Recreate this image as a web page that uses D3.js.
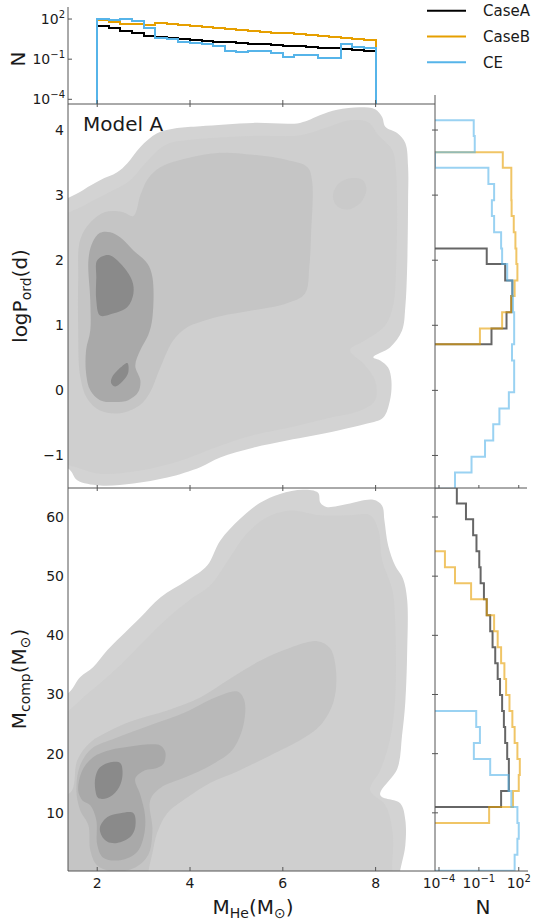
<!DOCTYPE html>
<html>
<head>
<meta charset="utf-8">
<script src="https://cdn.jsdelivr.net/npm/d3@7"></script>
<style>
html,body{margin:0;padding:0;background:#fff;}
svg text{font-family:"DejaVu Sans",sans-serif;fill:#1a1a1a;}
</style>
</head>
<body>
<svg id="fig" width="540" height="920"></svg>
<script>
// ---- marginal histogram of helium-star mass (bins along M_He) ----
const massEdges = [2.0,2.25,2.5,2.75,3.0,3.25,3.5,3.75,4.0,4.25,4.5,4.75,5.0,5.25,5.5,5.75,6.0,6.25,6.5,6.75,7.0,7.25,7.5,7.75,8.0];
const massCaseA = [30.2,20.4,12.6,8.5,5.6,4.8,4.0,3.2,2.7,2.4,2.0,1.8,1.6,1.45,1.3,1.15,1.02,0.91,0.81,0.72,0.65,0.58,0.51,0.43];
const massCaseB = [85,63,43,43,34,48,40,34,30,25,21,19,16,13.5,11.2,9.5,8.5,7.2,6.0,5.1,4.6,3.8,3.2,2.6];
const massCE    = [100,85,100,71,23,4.0,3.3,1.9,1.55,1.3,0.98,0.41,0.36,0.41,0.41,0.28,0.14,0.2,0.2,0.12,0.12,1.45,0.85,0.72];

// ---- marginal histogram of orbital period (bins along logP, top to bottom) ----
const periodEdges = [4.15,3.91,3.66,3.42,3.17,2.92,2.68,2.43,2.18,1.94,1.69,1.45,1.20,0.95,0.71,0.46,0.22,-0.03,-0.28,-0.52,-0.77,-1.02,-1.26,-1.51];
const periodCaseA = [0,0,0,0,0,0,0,0,0.39,9.5,33,27.5,12,0.89,0,0,0,0,0,0,0,0,0];
const periodCaseB = [0,0,6.3,27.5,27.5,29,42,56,66,79,49,27.5,5.6,0.12,0,0,0,0,0,0,0,0,0];
const periodCE    = [0.041,0.049,0,0.52,1.4,0.95,1.4,4.7,5.6,13.5,33,37,45,45,31,45,45,18,3.5,1.2,0.29,0.028,0.0016];

// ---- marginal histogram of companion mass (bins along M_comp, top to bottom) ----
const compEdges = [65.0,62.3,59.6,56.9,54.2,51.5,48.8,46.1,43.4,40.7,38.0,35.3,32.6,29.9,27.2,24.5,21.8,19.1,16.4,13.7,11.0,8.3,5.6,2.9,0.2];
const compCaseA = [0.0022,0.0107,0.037,0.066,0.107,0.135,0.24,0.39,0.71,1.07,1.7,2.6,3.9,5.6,7.6,9.5,13.5,18,18,4.7,0,0,0,0];
const compCaseB = [0,0,0,0,0.00028,0.0016,0.026,0.39,1.4,2.6,4.7,8.3,11.2,20,33,49,79,120,100,37,0.59,0,0,0];
const compCE    = [0,0,0,0,0,0,0,0,0,0,0,0,0,0,0.063,0.12,0.042,0.71,17,27.5,79,100,79,49];

// ---- tick values ----
const massTicks = [2,4,6,8];
const periodTicks = [-1,0,1,2,3,4];
const compTicks = [10,20,30,40,50,60];
const countExponents = [-4,-1,2];
const channels = ["CaseA","CaseB","CE"];

// ---- density regions in the (M_He, logP) plane, outermost first ----
const periodOuter = [[0.99,2.69],[1.70,3.08],[2.06,3.23],[2.43,3.35],[2.65,3.49],[2.93,3.74],[3.29,3.95],[3.72,4.03],[4.22,4.06],[5.36,4.11],[6.37,4.11],[6.81,4.23],[7.17,4.31],[7.67,4.35],[7.99,4.32],[8.14,4.20],[8.21,4.05],[8.47,3.95],[8.64,3.80],[8.70,3.43],[8.70,2.92],[8.68,1.89],[8.64,1.28],[8.57,0.92],[8.31,0.66],[7.95,0.51],[8.10,0.46],[8.27,0.35],[8.34,0.15],[8.31,-0.15],[8.16,-0.42],[7.82,-0.51],[7.17,-0.62],[6.09,-0.77],[5.36,-0.88],[4.65,-1.03],[4.22,-1.18],[3.51,-1.34],[2.78,-1.43],[2.06,-1.46],[1.57,-1.38],[1.42,-1.23],[0.99,-1.0]];
const periodRing = [[1.09,2.54],[1.74,2.85],[2.28,3.05],[2.71,3.23],[3.10,3.54],[3.47,3.77],[4.0,3.85],[5.36,3.91],[6.38,3.92],[6.91,4.03],[7.45,4.15],[7.84,4.12],[8.06,3.92],[8.36,3.69],[8.44,3.38],[8.44,1.85],[8.38,1.31],[8.21,1.0],[7.78,0.77],[7.45,0.62],[7.78,0.38],[7.99,0.15],[7.99,-0.15],[7.67,-0.31],[7.02,-0.42],[6.09,-0.58],[5.36,-0.69],[4.65,-0.85],[3.79,-1.08],[2.93,-1.23],[2.06,-1.28],[1.63,-1.2],[1.09,-1.0]];
const periodSpot = [[7.08,2.98],[7.19,3.17],[7.45,3.26],[7.73,3.23],[7.80,3.08],[7.67,2.88],[7.41,2.78],[7.17,2.83]];
const periodBand = [[1.63,2.31],[1.85,2.58],[2.17,2.74],[2.54,2.74],[2.78,2.68],[2.93,3.0],[3.10,3.26],[3.36,3.43],[3.79,3.54],[4.65,3.65],[5.36,3.62],[6.09,3.54],[6.53,3.43],[6.63,3.23],[6.61,2.42],[6.57,1.89],[6.48,1.49],[6.09,1.34],[5.36,1.23],[4.65,1.14],[4.22,1.05],[3.94,0.97],[3.64,0.77],[3.36,0.35],[3.14,-0.03],[2.93,-0.22],[2.50,-0.35],[2.06,-0.31],[1.78,-0.12],[1.63,0.23],[1.59,0.92],[1.59,1.69]];
const periodCore = [[1.89,2.26],[2.06,2.42],[2.28,2.43],[2.50,2.35],[2.78,2.15],[3.08,1.95],[3.19,1.74],[3.19,1.12],[3.10,0.85],[2.93,0.62],[2.82,0.38],[2.93,0.15],[2.88,-0.03],[2.67,-0.15],[2.39,-0.18],[2.06,-0.15],[1.85,0.0],[1.76,0.26],[1.76,0.62],[1.85,0.92],[1.85,1.38],[1.81,2.0]];
const periodPeakHigh = [[2.0,2.0],[2.24,2.08],[2.50,1.95],[2.75,1.69],[2.78,1.49],[2.65,1.28],[2.34,1.18],[2.06,1.15],[1.98,1.38],[1.98,1.74]];
const periodPeakLow = [[2.32,0.2],[2.50,0.35],[2.65,0.42],[2.67,0.28],[2.56,0.15],[2.39,0.06],[2.30,0.11]];

// ---- density regions in the (M_He, M_comp) plane, outermost first ----
const compOuter = [[0.99,29.0],[1.375,30.2],[1.63,32.9],[1.91,34.6],[2.22,37.5],[2.50,39.7],[2.93,43.0],[3.36,46.4],[3.94,49.3],[4.37,51.8],[4.65,56.0],[5.08,59.7],[5.51,62.4],[5.94,63.9],[6.44,64.6],[6.76,64.1],[6.81,62.4],[6.94,61.7],[7.39,62.2],[7.95,62.9],[8.14,61.9],[8.19,59.4],[8.27,55.2],[8.42,51.8],[8.59,49.6],[8.68,46.0],[8.68,37.2],[8.64,28.7],[8.57,23.1],[8.47,17.5],[8.10,13.0],[8.53,11.6],[8.64,8.8],[8.64,4.5],[8.57,1.7],[8.42,-2.2],[8.10,-4.7],[6.38,-5.5],[2.06,-5.5],[0.99,-5.5]];
const compRing = [[1.09,24.0],[1.63,29.0],[2.06,31.9],[2.50,35.0],[2.93,38.4],[3.47,42.6],[4.0,46.0],[4.44,48.5],[4.82,52.7],[5.19,56.9],[5.62,59.8],[6.16,61.1],[6.81,60.3],[7.45,60.3],[7.88,60.3],[8.06,57.8],[8.14,52.7],[8.36,47.7],[8.42,42.6],[8.42,29.1],[8.31,22.4],[8.10,17.2],[7.88,13.8],[8.21,11.3],[8.36,7.1],[8.36,2.0],[8.21,-3.9],[1.09,-3.9]];
const compBand = [[1.46,13.83],[1.57,18.9],[1.85,21.9],[2.28,23.9],[2.78,25.6],[3.51,27.3],[4.22,29.5],[4.87,32.7],[5.51,35.7],[6.16,37.9],[6.74,39.0],[7.02,37.8],[7.15,33.7],[7.09,28.7],[6.81,24.8],[6.44,22.6],[5.73,19.7],[5.02,17.0],[4.44,15.1],[3.94,12.6],[3.51,9.95],[3.29,6.6],[3.19,3.2],[3.10,0.0],[3.03,-3.9],[1.20,-3.9],[1.20,12.1]];
const compInner = [[1.55,13.8],[1.63,18.0],[1.89,20.9],[2.39,22.6],[3.14,24.8],[3.90,27.0],[4.54,29.5],[5.02,30.5],[5.17,29.0],[5.15,24.8],[4.91,20.6],[4.44,18.0],[3.90,16.0],[3.36,14.2],[3.14,12.1],[3.19,7.1],[3.10,2.9],[2.82,0.75],[2.39,0.07],[2.0,1.1],[1.85,3.7],[1.81,7.9],[1.63,10.5]];
const compCore = [[1.59,13.8],[1.68,17.2],[1.91,19.4],[2.28,20.6],[2.71,21.2],[3.14,21.6],[3.36,21.4],[3.47,20.2],[3.42,18.2],[3.25,17.5],[3.03,17.2],[2.82,15.8],[2.93,13.0],[3.03,9.6],[3.01,6.3],[2.86,3.4],[2.50,2.0],[2.13,2.4],[2.0,4.6],[1.98,8.8],[1.85,11.3],[1.68,12.1]];
const compPeakHigh = [[1.96,16.0],[2.06,17.7],[2.32,18.6],[2.50,18.4],[2.54,16.0],[2.43,13.8],[2.22,12.5],[2.02,12.5],[1.96,13.8]];
const compPeakLow = [[2.06,7.6],[2.22,9.3],[2.50,9.95],[2.78,9.95],[2.82,7.6],[2.71,5.9],[2.43,4.9],[2.22,5.1],[2.09,6.2]];

// ---- styling ----
const channelColor = {CaseA:"#000000", CaseB:"#E69F00", CE:"#56B4E9"};
const shade = {outer:"#d3d3d3", ring:"#cfcfcf", spot:"#cacaca", band:"#c5c5c5", inner:"#b9b9b9", core:"#a9a9a9", peak:"#8a8a8a"};
const periodLayers = [[periodOuter,"outer"],[periodRing,"ring"],[periodSpot,"spot"],[periodBand,"band"],[periodCore,"core"],[periodPeakHigh,"peak"],[periodPeakLow,"peak"]];
const compLayers = [[compOuter,"outer"],[compRing,"ring"],[compBand,"band"],[compInner,"inner"],[compCore,"core"],[compPeakHigh,"peak"],[compPeakLow,"peak"]];

// ---- layout ----
const L = 68, R = 435, RH = 527;
const T0 = 7, T1 = 104, MID = 488, B = 871;

const svg = d3.select("#fig");
const x = d3.scaleLinear().domain([1.37, 9.28]).range([L, R]);
const yP = d3.scaleLinear().domain([-1.5, 4.4]).range([MID, T1]);
const yC = d3.scaleLinear().domain([0.17, 64.9]).range([B, MID]);
const yN = d3.scaleLog().domain([Math.pow(10,-4.35), Math.pow(10,2.9)]).range([T1, T0]);
const xN = d3.scaleLog().domain([Math.pow(10,-4.3), Math.pow(10,2.77)]).range([R, RH + 2]);

const defs = svg.append("defs");
function clip(id, x0, y0, w, h) {
  defs.append("clipPath").attr("id", id).append("rect").attr("x", x0).attr("y", y0).attr("width", w).attr("height", h);
  return "url(#" + id + ")";
}
const clipTop = clip("cTop", L, T1, R - L, MID - T1);
const clipBot = clip("cBot", L, MID, R - L, B - MID);
const clipHist = clip("cHist", L, 0, R - L, T1);
const clipRT = clip("cRT", R, T1, 100, MID - T1);
const clipRB = clip("cRB", R, MID, 100, B - MID);

// ---- filled density regions ----
const smooth = d3.line().curve(d3.curveCatmullRomClosed.alpha(0.5));
function drawLayers(layers, yScale, clipUrl) {
  const g = svg.append("g").attr("clip-path", clipUrl);
  layers.forEach(([pts, lvl]) => {
    g.append("path")
      .attr("d", smooth(pts.map(p => [x(p[0]), yScale(p[1])])))
      .attr("fill", shade[lvl]);
  });
}
drawLayers(periodLayers, yP, clipTop);
drawLayers(compLayers, yC, clipBot);

// ---- step histograms ----
function nonzeroRange(counts) {
  let first = counts.findIndex(c => c > 0);
  let last = counts.length - 1;
  while (last > 0 && !(counts[last] > 0)) last--;
  return [first, last];
}
function columnSteps(edges, counts) {
  const [first, last] = nonzeroRange(counts);
  const base = T1 + 2;
  const yv = c => c > 0 ? yN(c) : base;
  const pts = [[x(edges[first]), base]];
  for (let i = first; i <= last; i++) {
    pts.push([x(edges[i]), yv(counts[i])]);
    pts.push([x(edges[i + 1]), yv(counts[i])]);
  }
  pts.push([x(edges[last + 1]), base]);
  return d3.line()(pts);
}
function rowSteps(edges, counts, yScale) {
  const [first, last] = nonzeroRange(counts);
  const base = R;
  const xv = c => c > 0 ? xN(c) : base;
  const pts = [[base, yScale(edges[first])]];
  for (let i = first; i <= last; i++) {
    pts.push([xv(counts[i]), yScale(edges[i])]);
    pts.push([xv(counts[i]), yScale(edges[i + 1])]);
  }
  pts.push([base, yScale(edges[last + 1])]);
  return d3.line()(pts);
}

const massData = {CaseA: massCaseA, CaseB: massCaseB, CE: massCE};
const periodData = {CaseA: periodCaseA, CaseB: periodCaseB, CE: periodCE};
const compData = {CaseA: compCaseA, CaseB: compCaseB, CE: compCE};

const gHist = svg.append("g").attr("clip-path", clipHist);
channels.forEach(ch => {
  gHist.append("path").attr("d", columnSteps(massEdges, massData[ch]))
    .attr("fill", "none").attr("stroke", channelColor[ch]).attr("stroke-width", 2)
    .attr("shape-rendering", "crispEdges");
});
const gRT = svg.append("g").attr("clip-path", clipRT);
const gRB = svg.append("g").attr("clip-path", clipRB);
channels.forEach(ch => {
  gRT.append("path").attr("d", rowSteps(periodEdges, periodData[ch], yP))
    .attr("fill", "none").attr("stroke", channelColor[ch]).attr("stroke-width", 2).attr("stroke-opacity", 0.6);
  gRB.append("path").attr("d", rowSteps(compEdges, compData[ch], yC))
    .attr("fill", "none").attr("stroke", channelColor[ch]).attr("stroke-width", 2).attr("stroke-opacity", 0.6);
});

// ---- frames and ticks ----
const ax = svg.append("g").attr("stroke", "#555").attr("stroke-width", 1).attr("fill", "none");
function seg(x1, y1, x2, y2) { ax.append("line").attr("x1", x1).attr("y1", y1).attr("x2", x2).attr("y2", y2); }
seg(L, T0, L, B);          // left spine through all stacked panels
seg(L, T1, R, T1);         // top of the density panel
seg(L, MID, RH, MID);      // divider between panels
seg(L, B, RH + 1, B);      // bottom axis
seg(R, T1, R, B);          // left spine of the side histograms
seg(R, T1 - 9, R, T1);
massTicks.forEach(m => {
  seg(x(m), T1 - 4, x(m), T1 + 3);
  seg(x(m), MID - 3, x(m), MID + 3);
  seg(x(m), B - 4, x(m), B);
});
periodTicks.forEach(p => seg(R - 3, yP(p), R + 3, yP(p)));
compTicks.forEach(c => seg(R - 3, yC(c), R + 3, yC(c)));
countExponents.forEach(e => {
  const v = Math.pow(10, e);
  seg(L, yN(v), L + 4, yN(v));
  seg(xN(v), MID - 3, xN(v), MID);
  seg(xN(v), B - 4, xN(v), B);
});

// ---- tick labels ----
const fs = 14;
function powLabel(t, e) {
  t.append("tspan").text("10");
  t.append("tspan").attr("dy", -6).attr("font-size", 10).text(e < 0 ? "\u2212" + (-e) : String(e));
}
periodTicks.forEach(p => {
  svg.append("text").attr("x", L - 4).attr("y", yP(p) + 5).attr("text-anchor", "end")
    .attr("font-size", fs).text(p < 0 ? "\u2212" + (-p) : String(p));
});
compTicks.forEach(c => {
  svg.append("text").attr("x", L - 4).attr("y", yC(c) + 5).attr("text-anchor", "end")
    .attr("font-size", fs).text(String(c));
});
massTicks.forEach(m => {
  svg.append("text").attr("x", x(m)).attr("y", B + 17).attr("text-anchor", "middle")
    .attr("font-size", fs).text(String(m));
});
countExponents.forEach(e => {
  const v = Math.pow(10, e);
  powLabel(svg.append("text").attr("x", L - 3).attr("y", yN(v) + 5).attr("text-anchor", "end").attr("font-size", fs), e);
  powLabel(svg.append("text").attr("x", xN(v)).attr("y", B + 17).attr("text-anchor", "middle").attr("font-size", fs), e);
});

// ---- axis titles ----
const big = 20, sub = 14;
svg.append("text").attr("transform", "translate(25,59) rotate(-90)").attr("text-anchor", "middle")
  .attr("font-size", big).text("N");
const tP = svg.append("text").attr("transform", "translate(27,296) rotate(-90)").attr("text-anchor", "middle").attr("font-size", big);
tP.append("tspan").text("logP");
tP.append("tspan").attr("font-size", sub).attr("dy", 4).text("ord");
tP.append("tspan").attr("dy", -4).text("(d)");
const tC = svg.append("text").attr("transform", "translate(26,679) rotate(-90)").attr("text-anchor", "middle").attr("font-size", big);
tC.append("tspan").text("M");
tC.append("tspan").attr("font-size", sub).attr("dy", 4).text("comp");
tC.append("tspan").attr("dy", -4).text("(M");
tC.append("tspan").attr("font-size", sub).attr("dy", 4).text("\u2299");
tC.append("tspan").attr("dy", -4).text(")");
const tX = svg.append("text").attr("x", 253).attr("y", 914).attr("text-anchor", "middle").attr("font-size", big);
tX.append("tspan").text("M");
tX.append("tspan").attr("font-size", sub).attr("dy", 4).text("He");
tX.append("tspan").attr("dy", -4).text("(M");
tX.append("tspan").attr("font-size", sub).attr("dy", 4).text("\u2299");
tX.append("tspan").attr("dy", -4).text(")");
svg.append("text").attr("x", 483).attr("y", 914).attr("text-anchor", "middle").attr("font-size", big).text("N");
svg.append("text").attr("x", 83).attr("y", 131).attr("font-size", big).text("Model A");

// ---- legend ----
const lg = svg.append("g");
channels.forEach((ch, i) => {
  const yy = 10.7 + i * 25.8;
  lg.append("line").attr("x1", 427).attr("x2", 466).attr("y1", yy).attr("y2", yy)
    .attr("stroke", channelColor[ch]).attr("stroke-width", 2);
  lg.append("text").attr("x", 483).attr("y", yy + 5.5).attr("font-size", 15).text(ch);
});
</script>
</body>
</html>
